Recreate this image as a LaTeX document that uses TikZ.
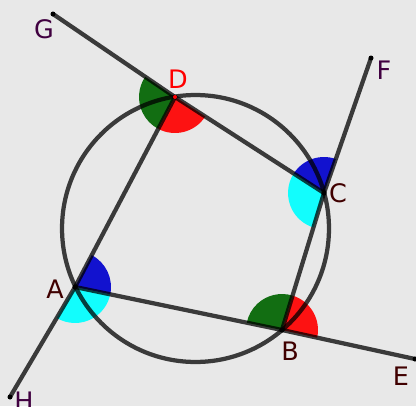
\documentclass[tikz,border=0pt]{standalone}
\usepackage{fontspec}
\setmainfont{DejaVu Sans}
\usetikzlibrary{angles}
\definecolor{paper}{RGB}{232,232,232}
\definecolor{sgreen}{RGB}{0,100,0}
\definecolor{sblue}{RGB}{0,0,205}
\definecolor{scyan}{RGB}{0,255,255}
\definecolor{sred}{RGB}{255,0,0}
\definecolor{labpurple}{RGB}{64,0,64}
\definecolor{labbrown}{RGB}{64,0,0}
\begin{document}
\begin{tikzpicture}[x=0.02cm, y=-0.02cm, every node/.style={font=\fontsize{14.5}{17}\selectfont},
  seg/.style={draw=black, draw opacity=0.75, line width=0.085cm, line cap=round},
  sect/.style={draw=none, fill opacity=0.92, angle radius=0.72cm},
  dot/.style={fill=black}]
\useasboundingbox (0,0) rectangle (416,406);
\fill[paper] (0,0) rectangle (416,406);
% points
\coordinate (G) at (53,14);
\coordinate (D) at (175,97);
\coordinate (C) at (324,193);
\coordinate (F) at (371,58);
\coordinate (A) at (75,287);
\coordinate (B) at (282,330);
\coordinate (E) at (415,359);
\coordinate (H) at (10,397);
\coordinate (O) at (195.5,228.5);
% angle sectors
\pic[sect, fill=sgreen] {angle=G--D--A};
\pic[sect, fill=sred] {angle=A--D--C};
\pic[sect, fill=sblue] {angle=F--C--D};
\pic[sect, fill=scyan] {angle=D--C--B};
\pic[sect, fill=sblue] {angle=B--A--D};
\pic[sect, fill=scyan] {angle=H--A--B};
\pic[sect, fill=sred] {angle=E--B--C};
\pic[sect, fill=sgreen] {angle=C--B--A};
% circle and lines
\draw[seg] (O) circle[radius=2.67cm];
\draw[seg] (G) -- (D); \draw[seg] (D) -- (C);
\draw[seg] (B) -- (C); \draw[seg] (C) -- (F);
\draw[seg] (A) -- (B); \draw[seg] (B) -- (E);
\draw[seg] (H) -- (A); \draw[seg] (A) -- (D);
\foreach \p in {G,C,F,A,B,E,H} \fill[dot] (\p) circle (0.05cm);
\fill[sred] (D) circle (0.04cm);
% labels
\node[text=labpurple] (lG) at (44,29) {G};
\node[text=sred] (lD) at (178,79) {D};
\node[text=labpurple] (lF) at (384,70) {F};
\node[text=labbrown] (lC) at (338,193) {C};
\node[text=labbrown] (lA) at (55,289) {A};
\node[text=labbrown] (lB) at (290,351) {B};
\node[text=labbrown] (lE) at (401,376) {E};
\node[text=labpurple] (lH) at (24,401) {H};
\end{tikzpicture}
\end{document}
